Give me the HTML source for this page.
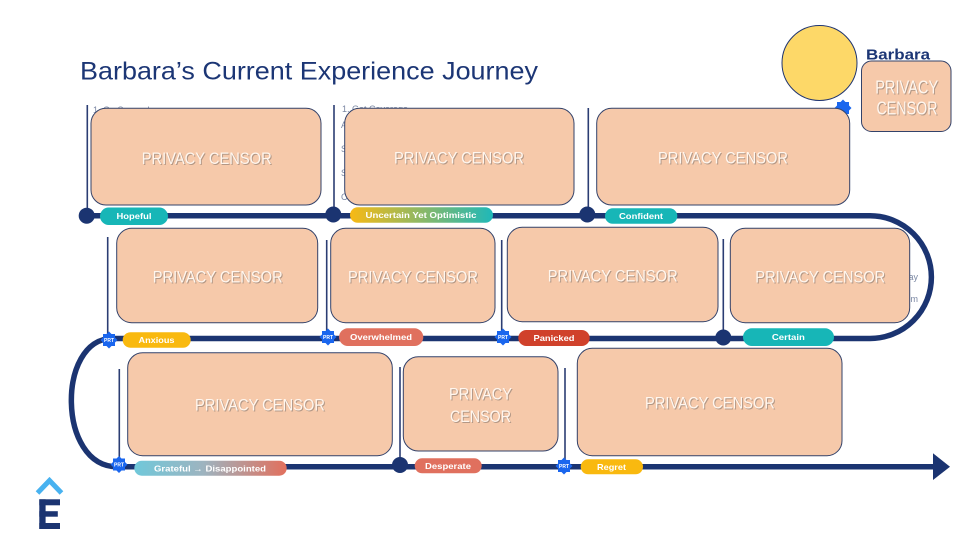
<!DOCTYPE html>
<html>
<head>
<meta charset="utf-8">
<style>
  html,body{margin:0;padding:0;background:#ffffff;}
  svg{display:block;}
  .bt{font-family:"Liberation Sans",sans-serif;font-size:17px;fill:#fff6ee;}
  .bs{font-family:"Liberation Sans",sans-serif;font-size:17px;fill:#b39886;}
  .pl{font-family:"Liberation Sans",sans-serif;font-size:8.5px;font-weight:bold;fill:#ffffff;}
  .prt{font-family:"Liberation Sans",sans-serif;font-size:5px;font-weight:bold;fill:#ffffff;}
  .sm{font-family:"Liberation Sans",sans-serif;font-size:9px;fill:#7a87a3;}
</style>
</head>
<body>
<svg width="973" height="541" viewBox="0 0 973 541" xmlns="http://www.w3.org/2000/svg">
  <defs>
    <linearGradient id="gU" x1="0" y1="0" x2="1" y2="0">
      <stop offset="0" stop-color="#f8b914"/>
      <stop offset="1" stop-color="#1fb8b9"/>
    </linearGradient>
    <linearGradient id="gG" x1="0" y1="0" x2="1" y2="0">
      <stop offset="0" stop-color="#70c8da"/>
      <stop offset="0.45" stop-color="#9db4c0"/>
      <stop offset="1" stop-color="#e2705d"/>
    </linearGradient>
    <polygon id="star" points="0,-8.5 2.5,-6 6,-6 6,-2.5 8.5,0 6,2.5 6,6 2.5,6 0,8.5 -2.5,6 -6,6 -6,2.5 -8.5,0 -6,-2.5 -6,-6 -2.5,-6" fill="#1a66ee"/>
  </defs>

  <!-- Title -->
  <text x="80" y="79.6" font-family="Liberation Sans, sans-serif" font-size="25" fill="#1c3675" textLength="458" lengthAdjust="spacingAndGlyphs">Barbara’s Current Experience Journey</text>

  <!-- Persona -->
  <circle cx="819.5" cy="63" r="37.5" fill="#fdd868" stroke="#1f3470" stroke-width="1"/>
  <text x="866" y="59.3" font-family="Liberation Sans, sans-serif" font-size="15" font-weight="bold" fill="#1c3675" textLength="64" lengthAdjust="spacingAndGlyphs">Barbara</text>
  <rect x="861.5" y="61" width="89.5" height="70.5" rx="10" fill="#f6c9aa" stroke="#33426a" stroke-width="1"/>
  <text class="bs" x="876.2" y="94.3" textLength="63" lengthAdjust="spacingAndGlyphs" style="font-size:18px">PRIVACY</text>
  <text class="bt" x="875.2" y="93.3" textLength="63" lengthAdjust="spacingAndGlyphs" style="font-size:18px">PRIVACY</text>
  <text class="bs" x="877.5" y="115.3" textLength="61" lengthAdjust="spacingAndGlyphs" style="font-size:18px">CENSOR</text>
  <text class="bt" x="876.5" y="114.3" textLength="61" lengthAdjust="spacingAndGlyphs" style="font-size:18px">CENSOR</text>

  <!-- small peeking texts -->
  <text class="sm" x="93" y="113">1. Go Somewhere</text>
  <text class="sm" x="342" y="112">1. Get Coverage</text>
  <text class="sm" x="341" y="128">A</text>
  <text class="sm" x="341" y="152">S</text>
  <text class="sm" x="341" y="176">S</text>
  <text class="sm" x="341" y="200">C</text>
  <text class="sm" x="918" y="280" text-anchor="end">Today</text>
  <text class="sm" x="918" y="302" text-anchor="end">from</text>
  <use href="#star" x="843" y="108"/>

  <!-- Main journey path -->
  <path d="M 86.7 215.7 L 870 215.7 A 61.4 61.4 0 0 1 870 338.5 L 112 338.5 C 57 338.5 57 466.7 117 466.7 L 936 466.7"
        fill="none" stroke="#1b3471" stroke-width="5.5"/>
  <polygon points="933,453.3 950,466.7 933,480" fill="#1b3471"/>

  <!-- vertical thin lines -->
  <g stroke="#2b3d73" stroke-width="1.6">
    <line x1="87.3" y1="105" x2="87.3" y2="215"/>
    <line x1="334" y1="105" x2="334" y2="214"/>
    <line x1="588.3" y1="108" x2="588.3" y2="214"/>
    <line x1="107.7" y1="237" x2="107.7" y2="338"/>
    <line x1="326.7" y1="240" x2="326.7" y2="337"/>
    <line x1="501.7" y1="240" x2="501.7" y2="337"/>
    <line x1="723.3" y1="239" x2="723.3" y2="337"/>
    <line x1="119.3" y1="369" x2="119.3" y2="465"/>
    <line x1="400" y1="367" x2="400" y2="465"/>
    <line x1="565" y1="368" x2="565" y2="466"/>
  </g>

  <!-- Boxes -->
  <g fill="#f6c9aa" stroke="#33426a" stroke-width="1">
    <rect x="91" y="108.3" width="230" height="96.7" rx="15"/>
    <rect x="344.7" y="108.3" width="229.3" height="96.7" rx="15"/>
    <rect x="596.7" y="108.3" width="253" height="96.7" rx="15"/>
    <rect x="116.7" y="228.3" width="201" height="94.4" rx="15"/>
    <rect x="330.7" y="228.3" width="164.3" height="94.4" rx="15"/>
    <rect x="507.3" y="227.3" width="210.7" height="94.4" rx="15"/>
    <rect x="730.3" y="228.3" width="179.4" height="94.4" rx="15"/>
    <rect x="127.7" y="352.7" width="264.6" height="103" rx="15"/>
    <rect x="403.3" y="356.7" width="154.7" height="94.3" rx="15"/>
    <rect x="577.3" y="348.3" width="264.7" height="107.4" rx="15"/>
  </g>

  <!-- Box labels (shadow + text) -->
  <g>
    <text class="bs" x="142.7" y="165" textLength="130" lengthAdjust="spacingAndGlyphs">PRIVACY CENSOR</text>
    <text class="bt" x="141.7" y="164" textLength="130" lengthAdjust="spacingAndGlyphs">PRIVACY CENSOR</text>
    <text class="bs" x="395" y="164.3" textLength="130" lengthAdjust="spacingAndGlyphs">PRIVACY CENSOR</text>
    <text class="bt" x="394" y="163.3" textLength="130" lengthAdjust="spacingAndGlyphs">PRIVACY CENSOR</text>
    <text class="bs" x="659" y="164.3" textLength="130" lengthAdjust="spacingAndGlyphs">PRIVACY CENSOR</text>
    <text class="bt" x="658" y="163.3" textLength="130" lengthAdjust="spacingAndGlyphs">PRIVACY CENSOR</text>

    <text class="bs" x="153.7" y="283.7" textLength="130" lengthAdjust="spacingAndGlyphs">PRIVACY CENSOR</text>
    <text class="bt" x="152.7" y="282.7" textLength="130" lengthAdjust="spacingAndGlyphs">PRIVACY CENSOR</text>
    <text class="bs" x="349" y="283.7" textLength="130" lengthAdjust="spacingAndGlyphs">PRIVACY CENSOR</text>
    <text class="bt" x="348" y="282.7" textLength="130" lengthAdjust="spacingAndGlyphs">PRIVACY CENSOR</text>
    <text class="bs" x="548.7" y="282.7" textLength="130" lengthAdjust="spacingAndGlyphs">PRIVACY CENSOR</text>
    <text class="bt" x="547.7" y="281.7" textLength="130" lengthAdjust="spacingAndGlyphs">PRIVACY CENSOR</text>
    <text class="bs" x="756.3" y="283.7" textLength="130" lengthAdjust="spacingAndGlyphs">PRIVACY CENSOR</text>
    <text class="bt" x="755.3" y="282.7" textLength="130" lengthAdjust="spacingAndGlyphs">PRIVACY CENSOR</text>

    <text class="bs" x="196" y="411.7" textLength="130" lengthAdjust="spacingAndGlyphs">PRIVACY CENSOR</text>
    <text class="bt" x="195" y="410.7" textLength="130" lengthAdjust="spacingAndGlyphs">PRIVACY CENSOR</text>
    <text class="bs" x="450" y="400.3" textLength="63" lengthAdjust="spacingAndGlyphs">PRIVACY</text>
    <text class="bt" x="449" y="399.3" textLength="63" lengthAdjust="spacingAndGlyphs">PRIVACY</text>
    <text class="bs" x="451" y="423" textLength="61" lengthAdjust="spacingAndGlyphs">CENSOR</text>
    <text class="bt" x="450" y="422" textLength="61" lengthAdjust="spacingAndGlyphs">CENSOR</text>
    <text class="bs" x="646" y="409.3" textLength="130" lengthAdjust="spacingAndGlyphs">PRIVACY CENSOR</text>
    <text class="bt" x="645" y="408.3" textLength="130" lengthAdjust="spacingAndGlyphs">PRIVACY CENSOR</text>
  </g>

  <!-- Dots -->
  <g fill="#1b3471">
    <circle cx="86.7" cy="215.7" r="8"/>
    <circle cx="333.3" cy="214.5" r="8"/>
    <circle cx="587.3" cy="214.5" r="8"/>
    <circle cx="723.3" cy="337.5" r="8"/>
    <circle cx="400" cy="465" r="8"/>
  </g>

  <!-- PRT stars -->
  <g>
    <use href="#star" x="109" y="340"/>
    <text class="prt" x="109" y="341.8" text-anchor="middle">PRT</text>
    <use href="#star" x="328" y="337"/>
    <text class="prt" x="328" y="338.8" text-anchor="middle">PRT</text>
    <use href="#star" x="503" y="337"/>
    <text class="prt" x="503" y="338.8" text-anchor="middle">PRT</text>
    <use href="#star" x="119" y="464.5"/>
    <text class="prt" x="119" y="466.3" text-anchor="middle">PRT</text>
    <use href="#star" x="564" y="466"/>
    <text class="prt" x="564" y="467.8" text-anchor="middle">PRT</text>
  </g>

  <!-- Pills -->
  <g>
    <rect x="100" y="207.5" width="68" height="17.5" rx="8.75" fill="#17b6b7"/>
    <text class="pl" x="134" y="219.2" text-anchor="middle" textLength="35" lengthAdjust="spacingAndGlyphs">Hopeful</text>

    <rect x="350" y="207.3" width="143" height="15.5" rx="7.75" fill="url(#gU)"/>
    <text class="pl" x="421" y="218.2" text-anchor="middle" textLength="111" lengthAdjust="spacingAndGlyphs">Uncertain Yet Optimistic</text>

    <rect x="605" y="208.3" width="72.3" height="15.5" rx="7.75" fill="#17b6b7"/>
    <text class="pl" x="641" y="219.2" text-anchor="middle" textLength="44" lengthAdjust="spacingAndGlyphs">Confident</text>

    <rect x="122.7" y="332.3" width="68" height="15.4" rx="7.7" fill="#f9b90f"/>
    <text class="pl" x="156.5" y="343" text-anchor="middle" textLength="36" lengthAdjust="spacingAndGlyphs">Anxious</text>

    <rect x="339" y="328.3" width="84.3" height="17.7" rx="8.85" fill="#e0705e"/>
    <text class="pl" x="381" y="340.2" text-anchor="middle" textLength="62" lengthAdjust="spacingAndGlyphs">Overwhelmed</text>

    <rect x="518.3" y="330" width="71.4" height="16" rx="8" fill="#d0412b"/>
    <text class="pl" x="554" y="341" text-anchor="middle" textLength="41" lengthAdjust="spacingAndGlyphs">Panicked</text>

    <rect x="743" y="328.3" width="91" height="17.7" rx="8.85" fill="#17b6b7"/>
    <text class="pl" x="788.4" y="340.2" text-anchor="middle" textLength="33" lengthAdjust="spacingAndGlyphs">Certain</text>

    <rect x="134.3" y="460.7" width="152.4" height="15" rx="7.5" fill="url(#gG)"/>
    <text class="pl" x="210" y="471.3" text-anchor="middle" textLength="112" lengthAdjust="spacingAndGlyphs">Grateful → Disappointed</text>

    <rect x="414.7" y="458.3" width="67" height="15" rx="7.5" fill="#e0705e"/>
    <text class="pl" x="448" y="469" text-anchor="middle" textLength="46" lengthAdjust="spacingAndGlyphs">Desperate</text>

    <rect x="580.7" y="459.3" width="62.3" height="15" rx="7.5" fill="#f9b90f"/>
    <text class="pl" x="611.5" y="470" text-anchor="middle" textLength="29" lengthAdjust="spacingAndGlyphs">Regret</text>
  </g>

  <!-- Logo -->
  <polyline points="37.5,493 49.5,480.5 61.5,493" fill="none" stroke="#48b2f0" stroke-width="5"/>
  <g fill="#1b3471">
    <rect x="39.3" y="499.3" width="6.3" height="29.7"/>
    <rect x="39.3" y="499.3" width="20.7" height="6"/>
    <rect x="39.3" y="511.2" width="18.5" height="5.5"/>
    <rect x="39.3" y="523" width="20.7" height="6"/>
  </g>
</svg>
</body>
</html>
